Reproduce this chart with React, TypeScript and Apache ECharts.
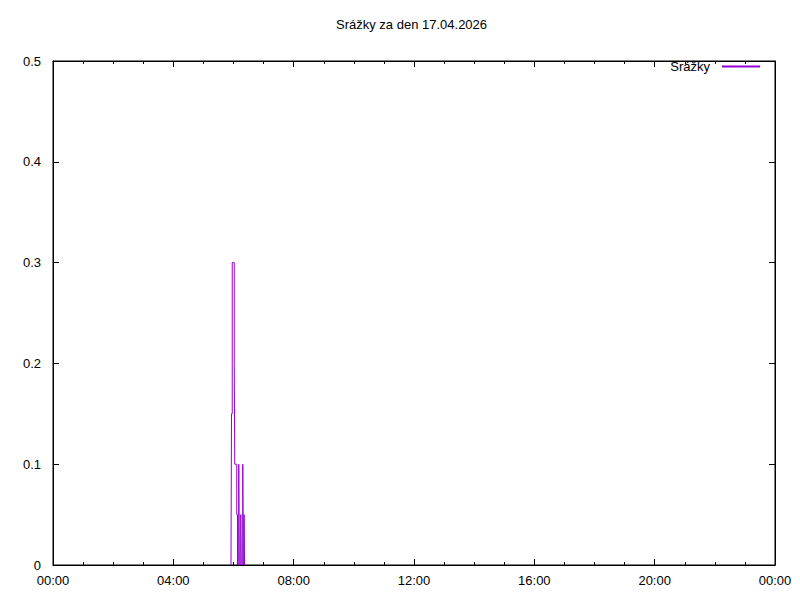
import React, { useEffect, useRef } from "react";
import * as echarts from "echarts";

const titleText = "Srážky za den 17.04.2026";
const seriesName = "Srážky";
// time in minutes since midnight, precipitation value (step line)
const times = [355, 356, 357.5, 361.5, 362.5, 366.5, 368, 370.5, 371.5, 374.5, 375.5, 378.5, 379.5, 381, 382, 383];
const values = [0, 0.15, 0.3, 0.2, 0.1, 0.05, 0, 0.1, 0, 0.05, 0, 0.1, 0, 0.05, 0, 0];

const fmt = (m: number) => {
  const h = Math.floor(m / 60) % 24;
  const mm = Math.round(m % 60);
  return String(h).padStart(2, "0") + ":" + String(mm).padStart(2, "0");
};

export default function App() {
  const ref = useRef<HTMLDivElement>(null);
  useEffect(() => {
    const chart = echarts.init(ref.current!, null, { renderer: "svg" });
    const font = "Liberation Sans, Arial, sans-serif";
    const baseX = {
      type: "value" as const,
      min: 0,
      max: 1440,
      interval: 240,
      z: 5,
      axisLine: { show: true, onZero: false, lineStyle: { color: "#000", width: 1 } },
      axisTick: { show: true, inside: true, length: 6, lineStyle: { color: "#000" } },
      minorTick: { show: true, splitNumber: 4, length: 3, lineStyle: { color: "#000" } },
      splitLine: { show: false },
    };
    const baseY = {
      type: "value" as const,
      min: 0,
      max: 0.5,
      interval: 0.1,
      z: 5,
      axisLine: { show: true, onZero: false, lineStyle: { color: "#000", width: 1 } },
      axisTick: { show: true, inside: true, length: 6, lineStyle: { color: "#000" } },
      splitLine: { show: false },
    };
    chart.setOption({
      animation: false,
      backgroundColor: "#fff",
      textStyle: { fontFamily: font },
      title: {
        text: titleText,
        left: 336,
        top: 18,
        padding: 0,
        textStyle: { fontFamily: font, fontSize: 13, fontWeight: "normal", color: "#000" },
      },
      legend: {
        right: 40,
        top: 60,
        padding: 0,
        align: "right",
        itemWidth: 38,
        itemHeight: 2,
        textStyle: { fontFamily: font, fontSize: 13, color: "#000", padding: [0, 7, 0, 0] },
        data: [{ name: seriesName, icon: "rect", itemStyle: { color: "#9400d3" } }],
      },
      grid: { left: 53, right: 25, top: 61, bottom: 35, show: true, borderColor: "#000", borderWidth: 1, backgroundColor: "transparent" },
      xAxis: [
        {
          ...baseX,
          position: "bottom",
          axisLabel: {
            show: true,
            margin: 9,
            color: "#000",
            fontSize: 13,
            fontFamily: font,
            formatter: (v: number) => fmt(v),
          },
        },
        { ...baseX, position: "top", axisLabel: { show: false } },
      ],
      yAxis: [
        {
          ...baseY,
          position: "left",
          axisLabel: {
            show: true,
            margin: 12,
            color: "#000",
            fontSize: 13,
            fontFamily: font,
            formatter: (v: number) => (v === 0 ? "0" : v.toFixed(1)),
          },
        },
        { ...baseY, position: "right", axisLabel: { show: false } },
      ],
      series: [
        {
          name: seriesName,
          type: "line",
          step: "end",
          symbol: "none",
          z: 2,
          lineStyle: { color: "#9400d3", width: 1 },
          itemStyle: { color: "#9400d3" },
          data: times.map((t, i) => [t, values[i]]),
        },
        {
          name: "mirror",
          type: "line",
          xAxisIndex: 1,
          yAxisIndex: 1,
          symbol: "none",
          silent: true,
          lineStyle: { opacity: 0 },
          data: [],
        },
      ],
    });
    return () => chart.dispose();
  }, []);
  return <div ref={ref} style={{ width: 800, height: 600, margin: -8 }} />;
}
